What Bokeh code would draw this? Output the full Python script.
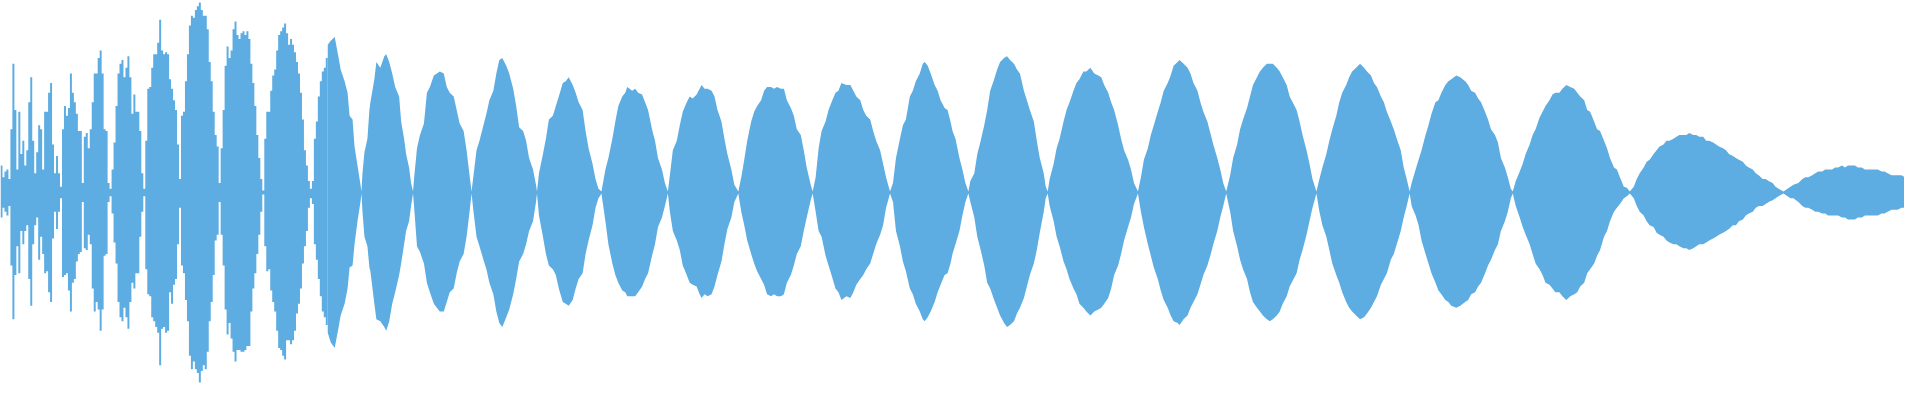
from bokeh.plotting import figure
from bokeh.models import ColumnDataSource, Range1d
from bokeh.embed import file_html
from bokeh.resources import INLINE

WAVE_COLOR = "#5DADE2"

# ---- Opening section: per-bin peak levels (% of full scale), bins of 2 time units ----
left_top = [
    14, 8, 11, 12, 7, 33, 67, 43, 12, 42,
    20, 27, 14, 22, 47, 60, 27, 10, 21, 35,
    33, 12, 42, 42, 52, 57, 25, 10, 19, 10,
    3, 33, 45, 40, 44, 62, 52, 47, 41, 32,
    32, 5, 29, 31, 23, 33, 47, 62, 62, 70,
    74, 62, 33, 32, 5, 2, 12, 26, 45, 62,
    67, 69, 60, 65, 71, 60, 41, 51, 42, 42,
    32, 10, 2, 27, 54, 55, 65, 72, 72, 78,
    90, 74, 72, 73, 72, 59, 54, 48, 43, 25,
    7, 40, 42, 58, 72, 87, 92, 91, 95, 97,
    99, 95, 92, 92, 85, 68, 58, 42, 30, 24,
    5, 23, 43, 66, 76, 70, 74, 85, 89, 82,
    80, 83, 84, 82, 84, 80, 67, 57, 45, 30,
    18, 7, 1, 28, 42, 42, 53, 61, 64, 74,
    82, 84, 86, 88, 83, 77, 80, 77, 73, 68,
    62, 52, 38, 22, 14, 6, 2, 6, 28, 37,
    50, 58, 63, 65, 70,
]
left_bot = [
    13, 8, 10, 12, 7, 38, 66, 43, 28, 42,
    20, 27, 20, 17, 45, 59, 27, 17, 13, 35,
    23, 32, 42, 41, 52, 57, 24, 10, 19, 10,
    3, 44, 43, 42, 51, 62, 47, 45, 36, 32,
    31, 5, 29, 30, 22, 27, 50, 62, 57, 61,
    72, 61, 33, 32, 5, 2, 11, 26, 37, 57,
    65, 67, 60, 65, 71, 57, 47, 50, 42, 42,
    23, 10, 2, 40, 53, 54, 65, 67, 70, 73,
    90, 71, 70, 73, 72, 52, 58, 48, 45, 27,
    8, 38, 42, 56, 67, 85, 92, 88, 92, 94,
    99, 93, 90, 92, 83, 67, 57, 43, 25, 22,
    5, 22, 38, 61, 74, 68, 76, 83, 88, 82,
    82, 83, 83, 82, 80, 80, 62, 50, 42, 32,
    22, 10, 1, 28, 41, 40, 51, 57, 62, 72,
    81, 82, 85, 87, 77, 77, 79, 77, 72, 63,
    58, 50, 37, 28, 20, 8, 3, 6, 27, 35,
    45, 54, 62, 65, 69,
]
left_bin = 2

# ---- Remaining section: envelope (time, positive peak %, negative peak %) ----
t_right = [
    330, 333, 337, 341, 343, 347, 350, 352, 355, 357, 360, 363, 364,
    365, 367, 370, 372, 373, 377, 379, 383, 387, 389, 392, 395, 398, 402, 404, 407, 409, 412, 414, 416,
    417, 420, 423, 427, 430, 433, 437, 440, 443, 447, 450, 453, 457, 460, 463, 467, 470, 473, 475,
    477, 480, 483, 487, 490, 493, 497, 500, 503, 506, 510, 513, 517, 520, 523, 527, 530, 533, 537, 540, 541,
    543, 547, 550, 553, 557, 560, 563, 567, 570, 573, 577, 580, 583, 587, 590, 593, 597, 600, 603, 606,
    610, 613, 617, 620, 623, 627, 630, 632, 637, 640, 643, 647, 650, 653, 657, 660, 663, 667, 670, 673,
    675, 678, 682, 685, 688, 692, 695, 698, 702, 705, 707, 710, 713, 717, 720, 723, 727, 730, 733, 737, 740, 744,
    747, 750, 753, 757, 760, 763, 767, 770, 773, 777, 780, 783, 787, 790, 793, 797, 800, 803, 807, 810, 813, 817, 819,
    822, 825, 828, 832, 835, 838, 842, 845, 848, 853, 857, 860, 863, 867, 870, 873, 877, 880, 883, 887, 890, 893, 897,
    900, 903, 907, 910, 913, 917, 920, 923, 927, 930, 932, 935, 938, 942, 945, 948, 952, 955, 958, 960, 963, 967, 970, 973, 976,
    978, 982, 985, 988, 992, 995, 998, 1002, 1005, 1008, 1012, 1015, 1018, 1022, 1025, 1028, 1032, 1035, 1038, 1042, 1045, 1048, 1052, 1054, 1056,
    1058, 1062, 1065, 1068, 1072, 1075, 1078, 1082, 1085, 1088, 1092, 1095, 1099, 1103, 1107, 1110, 1113, 1117, 1120, 1123, 1127, 1130, 1133, 1137, 1140, 1143, 1147,
    1150, 1153, 1157, 1160, 1163, 1167, 1170, 1173, 1177, 1180, 1183, 1187, 1189, 1193, 1197, 1200, 1203, 1207, 1210, 1213, 1217, 1220, 1223, 1227, 1230, 1233, 1236,
    1240, 1243, 1247, 1250, 1253, 1257, 1260, 1263, 1267, 1270, 1273, 1277, 1280, 1283, 1287, 1290, 1293, 1297, 1300, 1303, 1307, 1310, 1313, 1317, 1320, 1323, 1327,
    1330, 1333, 1337, 1340, 1343, 1347, 1350, 1353, 1357, 1360, 1363, 1367, 1371, 1375, 1378, 1382, 1385, 1388, 1392, 1395, 1398, 1402, 1405, 1408, 1412, 1415, 1418, 1421,
    1423, 1427, 1430, 1433, 1437, 1440, 1443, 1447, 1450, 1453, 1457, 1460, 1463, 1468, 1472, 1477, 1480, 1483, 1487, 1490, 1493, 1497, 1500, 1503, 1507, 1510, 1513, 1517, 1520, 1523, 1525,
    1528, 1532, 1535, 1538, 1542, 1545, 1548, 1552, 1555, 1558, 1562, 1565, 1568, 1572, 1575, 1579, 1583, 1587, 1590, 1593, 1597, 1600, 1603, 1607, 1610, 1613, 1617, 1620, 1623, 1627, 1630, 1633, 1637, 1640, 1643,
    1647, 1650, 1653, 1657, 1660, 1663, 1667, 1670, 1673, 1677, 1680, 1683, 1687, 1690, 1693, 1697, 1700, 1703, 1707, 1710, 1713, 1717, 1720, 1723, 1727, 1730, 1733, 1737, 1740, 1743, 1747, 1750, 1753, 1757, 1760, 1763, 1767, 1770, 1773, 1777, 1780, 1783, 1787, 1790, 1793, 1798,
    1802, 1805, 1808, 1813, 1817, 1820, 1823, 1827, 1830, 1833, 1837, 1840, 1843, 1847, 1850, 1853, 1857, 1860, 1863, 1867, 1870, 1873, 1877, 1880, 1883, 1887, 1890, 1893, 1897, 1900, 1903, 1907, 1910, 1913, 1917, 1920,
]
top_right = [
    77, 79, 81, 70, 64, 58, 52, 40, 38, 24, 14, 4, 0.5,
    10, 21, 28, 43, 47, 59, 68, 65, 71, 72, 68, 62, 55, 50, 37, 28, 20, 13, 5, 0.5,
    7, 23, 30, 36, 52, 55, 61, 62, 63, 62, 55, 52, 50, 43, 36, 32, 22, 9, 0.5,
    9, 22, 27, 35, 41, 48, 53, 62, 69, 70, 66, 62, 54, 45, 34, 32, 27, 18, 12, 4, 0.5,
    10, 20, 28, 38, 40, 45, 50, 57, 58, 60, 56, 52, 47, 43, 32, 23, 15, 7, 2, 0.5,
    12, 18, 28, 37, 45, 50, 52, 55, 53, 54, 52, 51, 47, 43, 33, 27, 18, 12, 5, 0.5,
    9, 22, 27, 35, 42, 47, 50, 49, 51, 54, 56, 54, 54, 53, 50, 43, 37, 28, 20, 12, 4, 0.5,
    8, 17, 27, 37, 42, 45, 48, 53, 55, 55, 54, 55, 54, 54, 48, 44, 40, 33, 30, 22, 13, 4, 0.5,
    8, 23, 32, 37, 43, 47, 52, 53, 57, 56, 56, 53, 50, 48, 43, 40, 38, 32, 27, 22, 15, 8, 0.5,
    5, 18, 28, 35, 38, 50, 53, 58, 62, 67, 68, 66, 62, 56, 53, 48, 44, 43, 37, 32, 28, 18, 12, 5, 0.5,
    6, 10, 20, 26, 35, 43, 53, 59, 64, 68, 70, 71, 69, 67, 64, 62, 53, 48, 43, 37, 27, 18, 10, 3, 0.5,
    7, 15, 23, 28, 37, 43, 47, 53, 57, 59, 63, 63, 65, 62, 61, 60, 56, 52, 47, 43, 35, 28, 22, 17, 12, 5, 0.5,
    8, 17, 23, 30, 35, 42, 47, 53, 57, 61, 66, 68, 69, 67, 65, 62, 57, 53, 47, 42, 37, 31, 25, 18, 12, 5, 0.5,
    9, 18, 25, 33, 38, 44, 50, 56, 60, 63, 65, 67, 67, 67, 65, 63, 60, 56, 50, 47, 43, 37, 30, 22, 15, 7, 0.5,
    7, 13, 20, 27, 33, 40, 47, 52, 56, 60, 63, 65, 67, 65, 63, 61, 57, 55, 50, 47, 42, 37, 33, 28, 22, 13, 7, 0.5,
    5, 12, 17, 22, 30, 35, 41, 47, 48, 52, 56, 58, 59, 61, 60, 58, 56, 53, 52, 49, 47, 42, 38, 33, 30, 26, 18, 13, 8, 2, 0.5,
    6, 11, 15, 20, 25, 30, 33, 39, 42, 45, 48, 51, 52, 52, 54, 56, 55, 54, 52, 50, 48, 43, 42, 37, 33, 32, 27, 23, 18, 13, 12, 8, 3, 2.5, 0.5,
    3, 7, 10, 13, 16, 17, 20, 22, 24, 25, 27, 27, 28, 29, 30, 30, 30, 31, 30, 30, 29, 29, 27, 27, 26, 25, 24, 23, 22, 20, 19, 18, 17, 16, 14, 13, 12, 10, 9, 7, 7, 6, 5, 3, 2, 0.5,
    2, 3, 4, 5, 7, 8, 8, 9, 10, 11, 11, 12, 12, 12, 13, 13, 14, 13, 14, 14, 14, 13, 13, 12, 12, 12, 12, 12, 11, 11, 10, 9, 9, 9, 9, 8,
]
bot_right = [
    73, 78, 81, 70, 64, 58, 50, 39, 38, 27, 15, 5, 0.5,
    10, 23, 28, 39, 41, 58, 66, 67, 70, 72, 67, 58, 52, 43, 37, 27, 20, 15, 7, 0.5,
    7, 28, 31, 37, 47, 52, 58, 60, 62, 62, 57, 52, 50, 42, 36, 32, 23, 10, 0.5,
    10, 23, 28, 35, 40, 47, 53, 62, 68, 70, 65, 61, 53, 45, 36, 32, 27, 20, 15, 5, 0.5,
    12, 23, 32, 38, 40, 43, 50, 57, 58, 59, 56, 50, 45, 42, 32, 25, 17, 8, 3, 0.5,
    15, 27, 37, 43, 47, 51, 52, 54, 54, 54, 52, 49, 45, 42, 33, 27, 18, 13, 7, 0.5,
    10, 20, 25, 30, 38, 43, 47, 48, 49, 53, 55, 53, 54, 53, 49, 43, 36, 27, 19, 13, 5, 0.5,
    10, 17, 25, 32, 37, 41, 45, 48, 53, 54, 53, 54, 54, 53, 47, 43, 38, 32, 28, 20, 13, 4, 0.5,
    10, 20, 23, 33, 38, 43, 50, 52, 56, 54, 55, 52, 48, 45, 43, 40, 37, 32, 27, 22, 17, 8, 0.5,
    5, 20, 28, 36, 41, 50, 53, 58, 62, 66, 67, 65, 62, 57, 52, 48, 43, 42, 37, 32, 27, 20, 12, 5, 0.5,
    5, 13, 23, 29, 38, 47, 50, 56, 60, 64, 68, 70, 69, 67, 63, 60, 55, 49, 43, 37, 30, 21, 10, 3, 0.5,
    7, 15, 23, 28, 36, 40, 45, 50, 53, 58, 60, 62, 64, 62, 61, 60, 58, 55, 50, 43, 38, 32, 25, 18, 13, 6, 0.5,
    10, 18, 27, 33, 39, 45, 51, 56, 60, 64, 67, 68, 69, 66, 64, 60, 57, 53, 48, 43, 38, 33, 27, 20, 13, 7, 0.5,
    10, 20, 28, 35, 40, 45, 52, 57, 60, 62, 64, 66, 67, 66, 64, 62, 58, 54, 49, 46, 42, 35, 30, 22, 15, 8, 0.5,
    10, 17, 23, 30, 37, 43, 47, 52, 57, 60, 62, 64, 66, 65, 63, 60, 57, 54, 48, 45, 42, 35, 32, 27, 20, 13, 7, 0.5,
    7, 12, 17, 25, 32, 37, 42, 47, 51, 53, 56, 57, 59, 60, 59, 57, 56, 53, 52, 49, 47, 42, 38, 35, 30, 27, 20, 15, 10, 3, 0.5,
    7, 13, 18, 22, 27, 32, 37, 40, 43, 47, 48, 50, 52, 52, 54, 56, 54, 53, 52, 49, 47, 42, 40, 37, 33, 30, 23, 20, 15, 10, 8, 6, 3, 2, 0.5,
    3, 7, 10, 12, 15, 17, 18, 21, 22, 23, 25, 26, 27, 27, 28, 29, 29, 30, 29, 28, 27, 27, 26, 25, 24, 23, 22, 21, 20, 19, 17, 17, 15, 14, 12, 11, 10, 8, 7, 7, 6, 5, 4, 3, 2, 0.5,
    2, 3, 3, 5, 7, 8, 8, 9, 10, 10, 11, 11, 12, 12, 12, 12, 13, 13, 14, 14, 14, 13, 13, 12, 12, 12, 12, 12, 11, 11, 10, 9, 9, 9, 8, 8,
]

# ---- build sources ----
n_left = min(len(left_top), len(left_bot))
t_left = [i * left_bin for i in range(n_left)] + [t_right[0]]
src_left = ColumnDataSource(dict(
    t=t_left,
    hi=list(left_top[:n_left]) + [top_right[0]],
    lo=[-v for v in left_bot[:n_left]] + [-bot_right[0]],
))
n_right = min(len(t_right), len(top_right), len(bot_right))
src_right = ColumnDataSource(dict(
    t=t_right[:n_right],
    hi=top_right[:n_right],
    lo=[-v for v in bot_right[:n_right]],
))

p = figure(width=1904, height=384, output_backend="svg", toolbar_location=None,
           x_range=Range1d(0, 1920), y_range=Range1d(-100, 100),
           x_axis_location=None, y_axis_location=None, min_border=0)
p.grid.visible = False
p.outline_line_color = None
p.background_fill_color = "white"
p.border_fill_color = "white"

p.varea_step(x="t", y1="lo", y2="hi", step_mode="after", source=src_left,
             fill_color=WAVE_COLOR)
p.varea(x="t", y1="lo", y2="hi", source=src_right, fill_color=WAVE_COLOR)

open("out.html", "w").write(file_html(p, INLINE))
